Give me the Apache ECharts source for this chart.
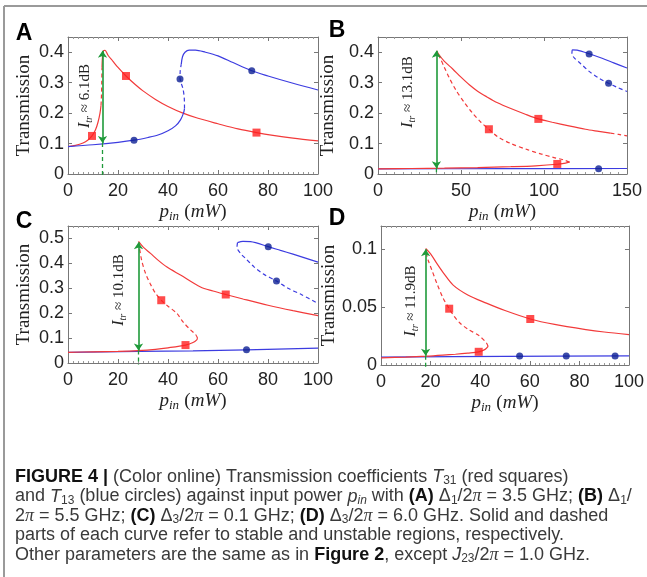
<!DOCTYPE html>
<html>
<head>
<meta charset="utf-8">
<script src="https://cdn.jsdelivr.net/npm/echarts@6/dist/echarts.min.js"></script>
<style>
html,body{margin:0;padding:0;background:#fff;}
#main{width:647px;height:577px;}
</style>
</head>
<body>
<div id="main"></div>
<script>
// ---- panel A ----
var aRedLow = [[0,0.090],[3,0.094],[6,0.102],[8,0.112],[9.6,0.125],[11,0.145],[12,0.17],[12.8,0.2],[13.2,0.225]];
var aRedMid = [[13.2,0.225],[13.4,0.26],[13.5,0.3],[13.6,0.35]];
var aRedHigh = [[13.6,0.35],[13.8,0.385],[14.2,0.405],[14.8,0.406],[16,0.39],[18,0.37],[20,0.35],[23.2,0.322],[27,0.293],[30,0.273],[35,0.245],[40,0.222],[46,0.2],[52,0.183],[60,0.165],[68,0.148],[75.4,0.136],[82,0.127],[90,0.118],[100,0.109]];
var aRedMarks = [[9.6,0.125],[23.2,0.322],[75.4,0.136]];
var aBlueLow = [[0,0.090],[10,0.096],[20,0.104],[26.4,0.111],[32,0.12],[36,0.128],[40,0.142],[43,0.158],[45,0.178],[46.2,0.2],[46.6,0.215]];
var aBlueMid = [[46.6,0.215],[46.5,0.25],[46,0.28],[45.2,0.3],[44.8,0.315],[44.9,0.34],[45.3,0.36]];
var aBlueHigh = [[45.3,0.36],[45.8,0.385],[46.8,0.4],[48.5,0.407],[51,0.407],[55,0.4],[60,0.388],[66,0.366],[73.5,0.339],[80,0.322],[90,0.298],[100,0.276]];
var aBlueMarks = [[26.4,0.111],[44.8,0.312],[73.5,0.339]];
var aArrow = [[13.8,0.405],[13.8,0.102]];
var aDrop = [[13.8,0.102],[13.8,-0.004]];

// ---- panel B ----
var bRedLow = [[0,0.017],[20,0.018],[40,0.019],[60,0.021],[80,0.024],[95,0.027],[108,0.032],[113,0.036],[115.4,0.039]];
var bRedMid = [[115.4,0.039],[112,0.046],[106,0.054],[98,0.066],[90,0.08],[80,0.1],[72,0.123],[66.8,0.147],[62,0.17],[57,0.2],[52,0.235],[47,0.275],[43,0.315],[40,0.35],[37.5,0.38],[35.6,0.4]];
var bRedHigh = [[35.3,0.405],[37,0.39],[40,0.37],[45,0.345],[50,0.318],[55,0.293],[60,0.272],[65.4,0.254],[72,0.234],[80,0.215],[88,0.198],[96.6,0.181],[105,0.17],[115,0.158],[125,0.147],[133,0.14],[140,0.134]];
var bRedTail = [[140,0.134],[145,0.13],[150,0.125]];
var bRedMarks = [[66.8,0.147],[96.6,0.181],[108,0.033]];
var bBlueLow = [[0,0.017],[75,0.0175],[150,0.018]];
var bBlueHigh = [[117,0.408],[120,0.407],[127.2,0.395],[135,0.38],[142,0.365],[150,0.348]];
var bBlueMid = [[117,0.408],[116.8,0.395],[118.5,0.38],[121.8,0.364],[127,0.338],[133,0.315],[138.9,0.298],[144,0.285],[150,0.271]];
var bBlueMarks = [[127.2,0.394],[138.9,0.298],[132.9,0.0175]];
var bArrow = [[35.2,0.405],[35.2,0.019]];
var bDrop = [[35.2,0.019],[35.2,-0.004]];

// ---- panel C ----
var cRedLow = [[0,0.043],[10,0.045],[20,0.047],[28,0.05],[35,0.055],[40,0.061],[47,0.072],[50,0.082],[51.5,0.093],[51.8,0.1]];
var cRedMid = [[51.8,0.1],[51,0.115],[49,0.133],[46,0.165],[43.6,0.199],[40,0.228],[37.3,0.252],[35,0.28],[32.9,0.318],[31,0.36],[29.5,0.411],[28.6,0.46],[28.2,0.48]];
var cRedHigh = [[28.2,0.488],[30.2,0.464],[33,0.44],[36,0.413],[39.6,0.385],[45,0.353],[53,0.305],[58,0.289],[63.1,0.275],[70,0.257],[80,0.232],[90,0.21],[100,0.19]];
var cRedMarks = [[37.3,0.252],[63.1,0.275],[47,0.072]];
var cBlueLow = [[0,0.043],[50,0.049],[71.4,0.053],[100,0.06]];
var cBlueHigh = [[67.8,0.483],[70,0.488],[73,0.487],[80.1,0.467],[85,0.452],[90,0.437],[95,0.421],[100,0.405]];
var cBlueMid = [[67.8,0.483],[67.6,0.465],[69,0.44],[71,0.42],[74.5,0.385],[78,0.358],[83.4,0.329],[88,0.3],[93.3,0.275],[100,0.239]];
var cBlueMarks = [[80.1,0.467],[83.4,0.329],[71.4,0.053]];
var cArrow = [[28.2,0.485],[28.2,0.05]];
var cDrop = [[28.2,0.05],[28.2,-0.008]];

// ---- panel D ----
var dRedLow = [[0,0.0062],[10,0.0068],[18.4,0.0076],[25,0.0085],[30,0.0093],[35,0.0103],[39.4,0.0114],[42,0.0135],[43.2,0.016]];
var dRedMid = [[43.2,0.016],[42.5,0.019],[39.8,0.0249],[35,0.031],[31.8,0.0363],[29.5,0.042],[27.5,0.0486],[25,0.058],[22.5,0.0706],[20.5,0.082],[19.1,0.09],[18.2,0.097]];
var dRedHigh = [[18,0.1006],[20,0.096],[22.5,0.0877],[25,0.08],[29.1,0.069],[35,0.0605],[42.5,0.0534],[50,0.047],[60.2,0.0397],[70,0.035],[82.6,0.0306],[90,0.0285],[100,0.0263]];
var dRedMarks = [[27.5,0.0486],[60.2,0.0397],[39.4,0.0114]];
var dBlueLow = [[0,0.0068],[50,0.0075],[100,0.0078]];
var dBlueMarks = [[55.9,0.0077],[74.7,0.0077],[94.4,0.0077]];
var dArrow = [[18,0.1],[18,0.008]];
var dDrop = [[18,0.008],[18,-0.002]];

// axis ranges [min, max, interval]
var xRanges = [[0,100,20],[0,150,50],[0,100,20],[0,100,20]];
var yRanges = [[0,0.45,0.1],[0,0.45,0.1],[0,0.55,0.1],[0,0.12,0.05]];
var gapLabels = ['6.1dB','13.1dB','10.1dB','11.9dB'];

var RED = '#f23a3a', BLUE = '#3c3ce0', NAVY = '#0d1f94', GREEN = '#1f9a3a';
var SANS = 'Liberation Sans', SERIF = 'Liberation Serif';

var grids = [
  {left:68, top:37, width:250, height:137},
  {left:378, top:37, width:249, height:137},
  {left:68, top:226, width:250, height:137},
  {left:381, top:226, width:248, height:139}
];
var yGaps = [34, 40, 34, 41];

var xAxes = [], yAxes = [];
grids.forEach(function (g, i) {
  var xr = xRanges[i], yr = yRanges[i];
  xAxes.push({
    gridIndex:i, type:'value', position:'bottom', min:xr[0], max:xr[1], interval:xr[2],
    axisLine:{onZero:false, lineStyle:{color:'#777', width:1}},
    axisTick:{inside:true, length:4, lineStyle:{color:'#777'}},
    minorTick:{show:true, splitNumber:10, length:2, lineStyle:{color:'#999'}},
    splitLine:{show:false},
    axisLabel:{color:'#222', fontSize:18, fontFamily:SANS, margin:8},
    name:'{p|p}{s|in} {r|(}{p|mW}{r|)}', nameLocation:'middle', nameGap:21,
    nameTextStyle:{rich:{
      p:{fontFamily:SERIF, fontStyle:'italic', fontSize:19, color:'#222', lineHeight:22},
      s:{fontFamily:SERIF, fontStyle:'italic', fontSize:13, color:'#222', lineHeight:22, verticalAlign:'bottom'},
      r:{fontFamily:SERIF, fontSize:19, color:'#222', lineHeight:22}
    }, fontSize:19, lineHeight:22}
  });
  yAxes.push({
    gridIndex:i, type:'value', position:'left', min:yr[0], max:yr[1], interval:yr[2],
    axisLine:{show:true, onZero:false, lineStyle:{color:'#777', width:1}},
    axisTick:{show:true, inside:true, length:4, lineStyle:{color:'#777'}},
    splitLine:{show:false},
    axisLabel:{color:'#222', fontSize:18, fontFamily:SANS, margin:4, showMaxLabel:false},
    name:'Transmission', nameLocation:'middle', nameGap:yGaps[i],
    nameTextStyle:{fontFamily:SERIF, fontSize:19, color:'#222'}
  });
});
grids.forEach(function (g, i) {
  var xr = xRanges[i], yr = yRanges[i];
  xAxes.push({
    gridIndex:i, type:'value', position:'top', min:xr[0], max:xr[1], interval:xr[2],
    axisLine:{onZero:false, lineStyle:{color:'#777', width:1}},
    axisTick:{inside:true, length:4, lineStyle:{color:'#777'}},
    minorTick:{show:true, splitNumber:10, length:2, lineStyle:{color:'#999'}},
    splitLine:{show:false}, axisLabel:{show:false}
  });
  yAxes.push({
    gridIndex:i, type:'value', position:'right', min:yr[0], max:yr[1], interval:yr[2],
    axisLine:{show:true, onZero:false, lineStyle:{color:'#777', width:1}},
    axisTick:{show:true, inside:true, length:4, lineStyle:{color:'#777'}},
    splitLine:{show:false}, axisLabel:{show:false}
  });
});

function curve(i, data, color, dashed) {
  return {
    type:'line', xAxisIndex:i, yAxisIndex:i, data:data, showSymbol:false, smooth:0.3,
    lineStyle:{color:color, width:1.2, type: dashed ? [4,3] : 'solid'}, silent:true, z:2
  };
}
function marks(i, data, shape) {
  return {
    type:'scatter', xAxisIndex:i, yAxisIndex:i, data:data,
    symbol: shape === 'sq' ? 'rect' : 'circle', symbolSize: shape === 'sq' ? 8 : 7,
    itemStyle:{color: shape === 'sq' ? '#ff1f1f' : NAVY}, silent:true, z:5
  };
}
function arrow(i, data) {
  return {
    type:'lines', coordinateSystem:'cartesian2d', xAxisIndex:i, yAxisIndex:i,
    data:[{coords:data}], symbol:['arrow','arrow'], symbolSize:7,
    lineStyle:{color:GREEN, width:1.6, opacity:1, curveness:0}, silent:true, z:4
  };
}
function drop(i, data) {
  return {
    type:'line', xAxisIndex:i, yAxisIndex:i, data:data, showSymbol:false, clip:false,
    lineStyle:{color:GREEN, width:1.3, type:[4,3]}, silent:true, z:3
  };
}

var series = [
  curve(0, aRedLow, RED), curve(0, aRedMid, RED, true), curve(0, aRedHigh, RED),
  curve(0, aBlueLow, BLUE), curve(0, aBlueMid, BLUE, true), curve(0, aBlueHigh, BLUE),
  drop(0, aDrop), arrow(0, aArrow), marks(0, aRedMarks, 'sq'), marks(0, aBlueMarks, 'c'),

  curve(1, bBlueLow, BLUE), curve(1, bRedLow, RED), curve(1, bRedMid, RED, true), curve(1, bRedHigh, RED), curve(1, bRedTail, RED, true),
  curve(1, bBlueHigh, BLUE), curve(1, bBlueMid, BLUE, true),
  drop(1, bDrop), arrow(1, bArrow), marks(1, bRedMarks, 'sq'), marks(1, bBlueMarks, 'c'),

  curve(2, cBlueLow, BLUE), curve(2, cRedLow, RED), curve(2, cRedMid, RED, true), curve(2, cRedHigh, RED),
  curve(2, cBlueHigh, BLUE), curve(2, cBlueMid, BLUE, true),
  drop(2, cDrop), arrow(2, cArrow), marks(2, cRedMarks, 'sq'), marks(2, cBlueMarks, 'c'),

  curve(3, dBlueLow, BLUE), curve(3, dRedLow, RED), curve(3, dRedMid, RED, true), curve(3, dRedHigh, RED),
  drop(3, dDrop), arrow(3, dArrow), marks(3, dRedMarks, 'sq'), marks(3, dBlueMarks, 'c')
];

// annotation text (rotated) and panel letters
var annotPos = [[85,96],[408,92],[119,290],[411,301]];
var letterPos = [[24,34],[337,31],[24,222],[337,219]];
var graphics = [
  {type:'line', shape:{x1:4, y1:6, x2:647, y2:6}, style:{stroke:'#9a9a9a', lineWidth:2}, silent:true},
  {type:'line', shape:{x1:4, y1:6, x2:4, y2:577}, style:{stroke:'#9a9a9a', lineWidth:2}, silent:true}
];
['A','B','C','D'].forEach(function (l, i) {
  graphics.push({type:'text', x:letterPos[i][0], y:letterPos[i][1], silent:true,
    style:{text:l, fontFamily:SANS, fontWeight:'bold', fontSize:23, fill:'#000', align:'center', verticalAlign:'middle'}});
});
gapLabels.forEach(function (t, i) {
  graphics.push({type:'text', x:annotPos[i][0], y:annotPos[i][1], rotation:Math.PI/2, silent:true,
    style:{text:'{i|I}{s|tr} ≈ ' + t, fontFamily:SERIF, fontSize:15, fill:'#222', align:'center', verticalAlign:'middle', lineHeight:18,
      rich:{
        i:{fontFamily:SERIF, fontStyle:'italic', fontSize:16, fill:'#222', lineHeight:18},
        s:{fontFamily:SERIF, fontStyle:'italic', fontSize:10, fill:'#222', lineHeight:18, verticalAlign:'bottom'}
      }}});
});

// caption
var capLines = [
  '{b|FIGURE 4 |} (Color online) Transmission coefficients {i|T}{s|31} (red squares)',
  'and {i|T}{s|13} (blue circles) against input power {i|p}{si|in} with {b|(A)} Δ{s|1}/2{pi|π} = 3.5 GHz; {b|(B)} Δ{s|1}/',
  '2{pi|π} = 5.5 GHz; {b|(C)} Δ{s|3}/2{pi|π} = 0.1 GHz; {b|(D)} Δ{s|3}/2{pi|π} = 6.0 GHz. Solid and dashed',
  'parts of each curve refer to stable and unstable regions, respectively.',
  'Other parameters are the same as in {b|Figure 2}, except {i|J}{s|23}/2{pi|π} = 1.0 GHz.'
];
var capFs = 18, capColor = '#3a3a3a';
capLines.forEach(function (t, k) {
  graphics.push({type:'text', x:15, y:477 + k * 19.5, silent:true,
    style:{text:t, fontFamily:SANS, fontSize:capFs, fill:capColor, align:'left', verticalAlign:'middle', lineHeight:20,
      rich:{
        b:{fontFamily:SANS, fontWeight:'bold', fontSize:capFs, fill:'#111', lineHeight:20},
        i:{fontFamily:SANS, fontStyle:'italic', fontSize:capFs, fill:capColor, lineHeight:20},
        s:{fontFamily:SANS, fontSize:12, fill:capColor, lineHeight:20, verticalAlign:'bottom'},
        si:{fontFamily:SANS, fontStyle:'italic', fontSize:12, fill:capColor, lineHeight:20, verticalAlign:'bottom'},
        pi:{fontFamily:SERIF, fontStyle:'italic', fontSize:capFs, fill:capColor, lineHeight:20}
      }}});
});

var chart = echarts.init(document.getElementById('main'));
chart.setOption({
  animation:false,
  backgroundColor:'#fff',
  grid:grids,
  xAxis:xAxes,
  yAxis:yAxes,
  series:series,
  graphic:graphics
});
</script>
</body>
</html>
